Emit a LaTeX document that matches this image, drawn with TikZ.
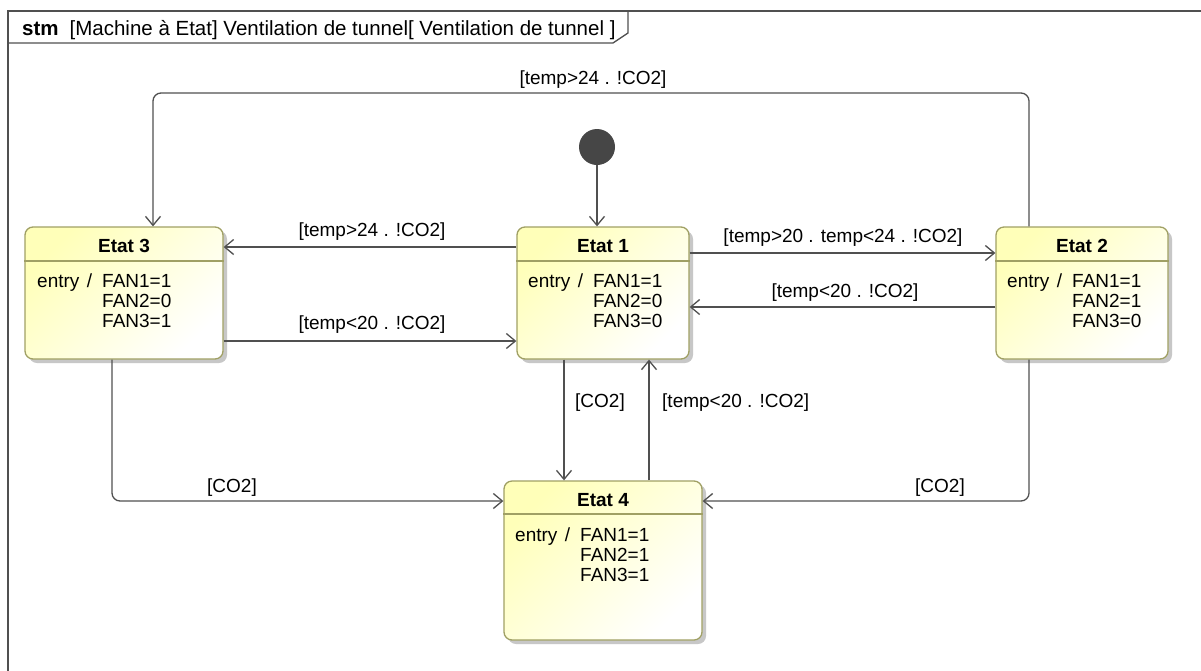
\documentclass[tikz,border=0pt]{standalone}
\usepackage{fontspec}
\setmainfont{Liberation Sans}
\usetikzlibrary{arrows.meta,shadows}
\definecolor{lineC}{RGB}{80,80,80}
\definecolor{stBorder}{RGB}{160,160,100}
\definecolor{stFill}{RGB}{255,255,185}
\definecolor{initC}{RGB}{70,70,70}
\newcommand{\entrybody}[3]{\begin{tabular}[t]{@{}l@{}l@{}}\makebox[65pt][l]{entry\hspace{7.5pt}/} & FAN1=#1\\ & FAN2=#2\\ & FAN3=#3\end{tabular}}
\begin{document}
\begin{tikzpicture}[x=1pt,y=-1pt,
  font=\fontsize{19}{20}\selectfont,
  stateBox/.style={draw=stBorder, line width=1.3pt, rounded corners=8pt,
    top color=stFill, bottom color=white, shading angle=45,
    drop shadow={shadow xshift=4pt, shadow yshift=-4pt, fill=black!40, opacity=0.55},
    inner sep=0pt},
  sepLine/.style={draw=stBorder, line width=1.3pt},
  headTxt/.style={font=\fontsize{19}{20}\selectfont\bfseries, anchor=base, inner sep=0pt},
  bodyTxt/.style={anchor=base west, inner sep=0pt},
  conn/.style={draw=lineC, line width=1.3pt},
  arr/.style={conn, -{Straight Barb[length=9pt,width=15pt]}},
  lbl/.style={inner sep=0pt, text=black}]
\useasboundingbox (0,0) rectangle (1201,670);
\fill[white] (0,0) rectangle (1201,670);
% frame
\draw[lineC, line width=1.3pt] (8,680) -- (8,11) -- (1210,11);
\draw[lineC, line width=1.3pt] (8,43) -- (613,43) -- (628,33) -- (628,11);
\node[anchor=base west, inner sep=0pt, font=\fontsize{20.5}{22}\selectfont] (title) at (22,35) {\textbf{stm}\hspace{11pt}[Machine à Etat] Ventilation de tunnel[ Ventilation de tunnel ]};
% states
\node[stateBox, minimum width=198pt, minimum height=132pt] (e3) at (124,293) {};
\node[stateBox, minimum width=172pt, minimum height=132pt] (e1) at (603,293) {};
\node[stateBox, minimum width=172pt, minimum height=132pt] (e2) at (1082,293) {};
\node[stateBox, minimum width=198pt, minimum height=159pt] (e4) at (603,560.5) {};
\draw[sepLine] (e3.west |- 0,261) -- (e3.east |- 0,261);
\draw[sepLine] (e1.west |- 0,261) -- (e1.east |- 0,261);
\draw[sepLine] (e2.west |- 0,261) -- (e2.east |- 0,261);
\draw[sepLine] (e4.west |- 0,514) -- (e4.east |- 0,514);
\node[headTxt] (h3) at (124,252) {Etat 3};
\node[headTxt] (h1) at (603,252) {Etat 1};
\node[headTxt] (h2) at (1082,252) {Etat 2};
\node[headTxt] (h4) at (603,506) {Etat 4};
\node[bodyTxt] (b3) at (37,287) {\entrybody{1}{0}{1}};
\node[bodyTxt] (b1) at (528,287) {\entrybody{1}{0}{0}};
\node[bodyTxt] (b2) at (1007,287) {\entrybody{1}{1}{0}};
\node[bodyTxt] (b4) at (515,541) {\entrybody{1}{1}{1}};
% initial
\node[circle, fill=initC, minimum size=36pt, inner sep=0pt] (init) at (597,147) {};
\draw[arr] (init.south) -- (init.south |- e1.north);
% transitions
\draw[arr] (e1.west |- 0,247) -- (e3.east |- 0,247);
\draw[arr] (e3.east |- 0,341) -- (e1.west |- 0,341);
\draw[arr] (e1.east |- 0,253) -- (e2.west |- 0,253);
\draw[arr] (e2.west |- 0,307) -- (e1.east |- 0,307);
\draw[arr] (e1.south -| 564,0) -- (e4.north -| 564,0);
\draw[arr] (e4.north -| 649,0) -- (e1.south -| 649,0);
\coordinate (loopR) at (1029,93);
\coordinate (loopL) at (153,93);
\draw[arr, rounded corners=8pt] (e2.north -| loopR) -- (loopR) -- (loopL) -- (e3.north -| loopL);
\draw[arr, rounded corners=8pt] (e3.south -| 112,0) |- (e4.west |- 0,501);
\draw[arr, rounded corners=8pt] (e2.south -| 1029,0) |- (e4.east |- 0,501);
% labels
\node[lbl] (l1) at (593,80) {[temp>24 . !CO2]};
\node[lbl] (l2) at (372,232) {[temp>24 . !CO2]};
\node[lbl] (l3) at (372,325) {[temp<20 . !CO2]};
\node[lbl] (l4) at (843,238) {[temp>20 . temp<24 . !CO2]};
\node[lbl] (l5) at (845,293) {[temp<20 . !CO2]};
\node[lbl] (l6) at (600,403) {[CO2]};
\node[lbl, anchor=west] (l7) at (662,403) {[temp<20 . !CO2]};
\node[lbl] (l8) at (232,488) {[CO2]};
\node[lbl] (l9) at (940,488) {[CO2]};
\end{tikzpicture}
\end{document}
